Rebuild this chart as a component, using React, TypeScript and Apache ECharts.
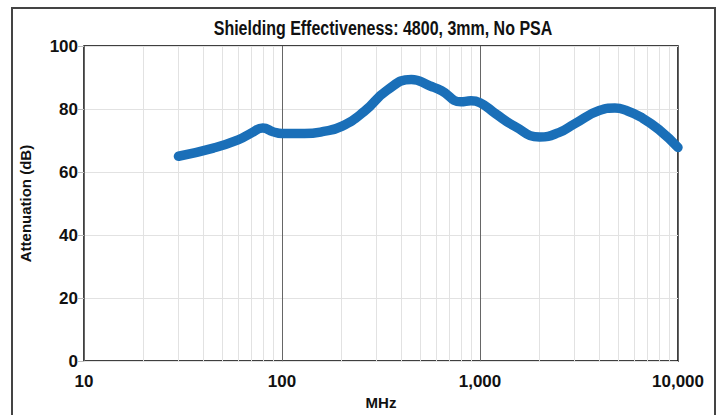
import React, { useEffect, useRef } from "react";
import * as echarts from "echarts";

const titleText = "Shielding Effectiveness: 4800, 3mm, No PSA";
const xAxisName = "MHz";
const yAxisName = "Attenuation (dB)";

const freqs = [30, 45, 60, 70, 80, 90, 100, 130, 160, 200, 260, 340, 450, 560, 640, 800, 900, 1000, 1200, 1500, 2000, 2500, 3000, 4000, 4800, 5500, 6500, 8000, 10000];
const attenuation = [65, 67.6, 70.2, 72.4, 74, 72.8, 72.2, 72.2, 72.8, 74.5, 79.2, 86, 89.4, 87.3, 85.8, 82.3, 82.6, 82, 78.5, 74.5, 71.1, 72.5, 75.3, 79.5, 80.3, 79.5, 77.4, 73.5, 67.8];

const minorGridFreqs = [20, 30, 40, 50, 60, 70, 80, 90, 200, 300, 400, 500, 600, 700, 800, 900, 2000, 3000, 4000, 5000, 6000, 7000, 8000, 9000];
const majorGridFreqs = [100, 1000];

const FONT = "'Liberation Sans', Arial, sans-serif";

export default function App() {
  const ref = useRef<HTMLDivElement>(null);
  useEffect(() => {
    if (!ref.current) return;
    const chart = echarts.init(ref.current, null, { renderer: "svg" });
    chart.setOption({
      animation: false,
      backgroundColor: "#ffffff",
      graphic: [
        {
          type: "rect",
          shape: { x: 12, y: 8, width: 703, height: 430 },
          style: { fill: "none", stroke: "#444", lineWidth: 2 },
          silent: true,
        },
        {
          type: "text",
          x: 383,
          y: 28,
          scaleX: 0.82,
          silent: true,
          style: {
            text: titleText,
            fontFamily: FONT,
            fontWeight: "bold",
            fontSize: 19.5,
            fill: "#111",
            align: "center",
            verticalAlign: "middle",
          },
        },
      ],
      grid: {
        left: 84,
        right: 40,
        top: 46,
        bottom: 49,
        show: true,
        borderColor: "#000",
        borderWidth: 1.5,
        backgroundColor: "transparent",
      },
      xAxis: {
        type: "log",
        logBase: 10,
        min: 10,
        max: 10000,
        name: xAxisName,
        nameLocation: "middle",
        nameGap: 30,
        nameTextStyle: { fontFamily: FONT, fontWeight: "bold", fontSize: 15, color: "#111" },
        axisLine: { show: false },
        axisTick: { show: false },
        axisLabel: {
          fontFamily: FONT,
          fontWeight: "bold",
          fontSize: 17,
          color: "#111",
          margin: 12,
          formatter: (v: number) => Math.round(v).toLocaleString("en-US"),
        },
        splitLine: { show: true, lineStyle: { color: "#666", width: 1 } },
        minorTick: { show: false },
        minorSplitLine: { show: false },
      },
      yAxis: {
        type: "value",
        min: 0,
        max: 100,
        interval: 20,
        name: yAxisName,
        nameLocation: "middle",
        nameGap: 51,
        nameTextStyle: { fontFamily: FONT, fontWeight: "bold", fontSize: 15, color: "#111" },
        axisLine: { show: false },
        axisTick: { show: true, length: 6, lineStyle: { color: "#bbb" } },
        axisLabel: { fontFamily: FONT, fontWeight: "bold", fontSize: 17, color: "#111", margin: 6 },
        splitLine: { show: true, lineStyle: { color: "#e2e2e2", width: 1 } },
      },
      series: [
        {
          type: "line",
          name: "grid",
          data: [],
          silent: true,
          z: 1,
          markLine: {
            silent: true,
            symbol: "none",
            label: { show: false },
            lineStyle: { color: "#e2e2e2", type: "solid", width: 1 },
            data: minorGridFreqs.map((f) => ({ xAxis: f })),
          },
        },
        {
          type: "line",
          name: "major",
          data: [],
          silent: true,
          z: 2,
          markLine: {
            silent: true,
            symbol: "none",
            label: { show: false },
            lineStyle: { color: "#666", type: "solid", width: 1 },
            data: majorGridFreqs.map((f) => ({ xAxis: f })),
          },
        },
        {
          type: "line",
          name: "Attenuation",
          data: freqs.map((f, i) => [f, attenuation[i]]),
          smooth: 0.5,
          showSymbol: false,
          z: 5,
          lineStyle: { color: "#1a6fb8", width: 9.5, cap: "round", join: "round" },
          itemStyle: { color: "#1a6fb8" },
        },
      ],
    });
    return () => chart.dispose();
  }, []);
  return <div ref={ref} style={{ position: "fixed", left: 0, top: 0, width: 718, height: 415 }} />;
}
